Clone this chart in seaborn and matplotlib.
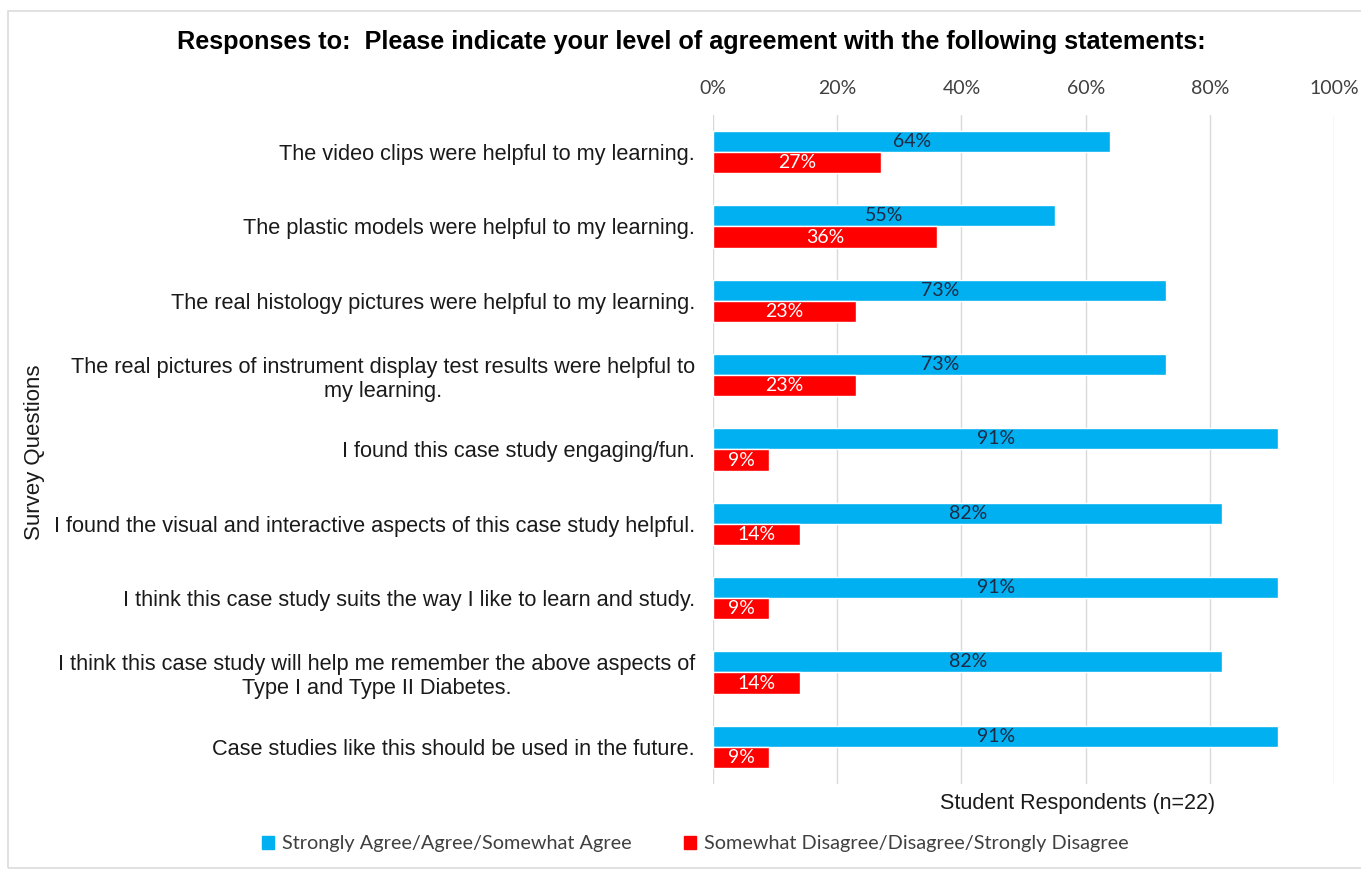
import matplotlib
matplotlib.use("Agg")
import matplotlib.pyplot as plt
import seaborn as sns
import pandas as pd
from matplotlib.patches import Rectangle

questions = [
    "The video clips were helpful to my learning.",
    "The plastic models were helpful to my learning.",
    "The real histology pictures were helpful to my learning.",
    "The real pictures of instrument display test results were helpful to\nmy learning.",
    "I found this case study engaging/fun.",
    "I found the visual and interactive aspects of this case study helpful.",
    "I think this case study suits the way I like to learn and study.",
    "I think this case study will help me remember the above aspects of\nType I and Type II Diabetes.",
    "Case studies like this should be used in the future.",
]
agree = [64, 55, 73, 73, 91, 82, 91, 82, 91]
disagree = [27, 36, 23, 23, 9, 14, 9, 14, 9]
series = ["Strongly Agree/Agree/Somewhat Agree",
          "Somewhat Disagree/Disagree/Strongly Disagree"]
colors = ["#00B0F0", "#FF0000"]
ticks = [0, 20, 40, 60, 80, 100]

df = pd.DataFrame({
    "Question": questions * 2,
    "Percent": agree + disagree,
    "Response": [series[0]] * len(questions) + [series[1]] * len(questions),
})

sns.set_theme(style="white")
plt.rcParams['font.family'] = ['Liberation Sans', 'DejaVu Sans']

fig = plt.figure(figsize=(13.61, 8.71), dpi=100)
ax = fig.add_axes([0.5239, 0.100, 0.4563, 0.768])

sns.barplot(data=df, y="Question", x="Percent", hue="Response",
            order=questions, hue_order=series, palette=colors,
            orient="h", width=0.57, gap=0, saturation=1, ax=ax,
            legend=False, errorbar=None)

label_font = dict(family="Lato", fontsize=14)
for cont, col in zip(ax.containers, ["#1F2A44", "white"]):
    ax.bar_label(cont, labels=[f"{int(round(v))}%" for v in cont.datavalues],
                 label_type="center", color=col, **label_font)

ax.set_xlim(0, 100)
ax.set_xticks(ticks)
ax.set_xticklabels([f"{t}%" for t in ticks], fontfamily="Lato", fontsize=14, color="#404040")
ax.xaxis.tick_top()
ax.tick_params(axis="x", length=0, pad=13)
ax.tick_params(axis="y", length=0, pad=13)
for lbl in ax.get_yticklabels():
    lbl.set_fontsize(15.7)
    lbl.set_color("#1a1a1a")
    lbl.set_horizontalalignment("right")
    lbl.set_multialignment("center")
ax.grid(axis="x", color="#D9D9D9", linewidth=1)
ax.set_axisbelow(True)
for s in ax.spines.values():
    s.set_visible(False)
ax.set_ylabel("")
ax.set_xlabel("")

fig.text(0.025, 0.481, "Survey Questions", rotation=90, va="center", ha="center",
         fontsize=16, color="#1a1a1a")
fig.text(0.508, 0.952, "Responses to:  Please indicate your level of agreement with the following statements:",
         ha="center", va="center", fontsize=18.2, fontweight="bold", color="black")
fig.text(0.7915, 0.078, "Student Respondents (n=22)", ha="center", va="center",
         fontsize=15.5, color="#1a1a1a")

handles = [Rectangle((0, 0), 1, 1, color=c) for c in colors]
fig.legend(handles, series, loc="center", bbox_to_anchor=(0.5107, 0.031), ncol=2,
           frameon=False, prop=dict(family="Lato", size=14.3), handlelength=0.6,
           handleheight=0.6, handletextpad=0.4, columnspacing=2.65, labelcolor="#404040")

fig.patches.append(Rectangle((0.006, 0.0035), 1.0, 0.984, transform=fig.transFigure,
                             fill=False, edgecolor="#DCDCDC", linewidth=1.2))

fig.savefig("out.png", dpi=100)
